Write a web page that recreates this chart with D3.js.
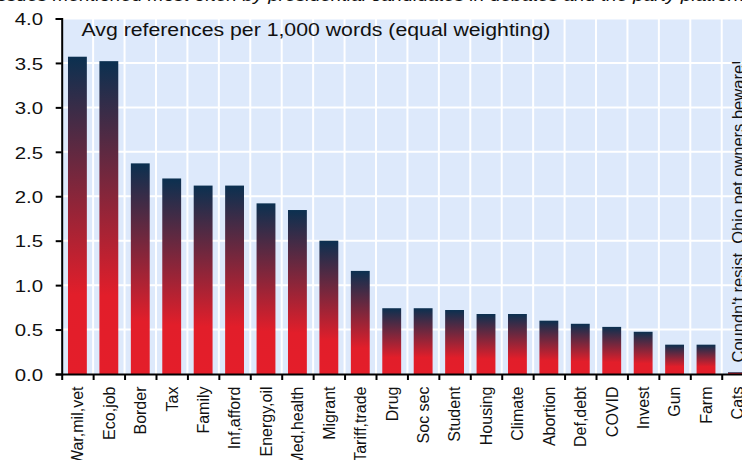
<!DOCTYPE html>
<html>
<head>
<meta charset="utf-8">
<script src="https://cdn.jsdelivr.net/npm/d3@7"></script>
<style>
  html, body { margin: 0; padding: 0; background: #ffffff; }
  svg { display: block; }
  text { font-family: "Liberation Sans", Arial, sans-serif; fill: #111; }
</style>
</head>
<body>
<div id="chart"></div>
<script>
// ---- data ----
const categories = ["War,mil,vet","Eco,job","Border","Tax","Family","Inf,afford","Energy,oil","Med,health","Migrant","Tariff,trade","Drug","Soc sec","Student","Housing","Climate","Abortion","Def,debt","COVID","Invest","Gun","Farm","Cats"];
const values = [3.57,3.52,2.37,2.20,2.12,2.12,1.92,1.845,1.50,1.16,0.74,0.74,0.72,0.675,0.675,0.60,0.565,0.53,0.475,0.33,0.33,0.02];
const yTicks = [0,0.5,1,1.5,2,2.5,3,3.5,4];
const yTickLabels = ["0.0","0.5","1.0","1.5","2.0","2.5","3.0","3.5","4.0"];
const titleText = "Issues mentioned most often by presidential candidates in debates and the party platforms";
const subtitleText = "Avg references per 1,000 words (equal weighting)";
const sideNote = "Coundn't resist. Ohio pet owners beware!";

(function () {
// ---- layout ----
const W = 742, H = 460;
const pLeft = 61.7, pTop = 18.5, pBottom = 374;
const step = 31.43;
const pRight = pLeft + step * categories.length;
const SX = 1.2; // horizontal stretch of y tick text in the reference

const svg = d3.select("#chart").append("svg").attr("width", W).attr("height", H);

const x = d3.scaleBand().domain(categories).range([pLeft, pRight]).paddingInner(0.4).paddingOuter(0.2);
const xEdge = d3.scaleLinear().domain([0, categories.length]).range([pLeft, pRight]);
const y = d3.scaleLinear().domain([0, 4]).range([pBottom, pTop]);

// gradient
const defs = svg.append("defs");
const grad = defs.append("linearGradient").attr("id", "barGrad")
  .attr("x1", 0).attr("y1", 0).attr("x2", 0).attr("y2", 1);
grad.append("stop").attr("offset", "0%").attr("stop-color", "#0b3050");
grad.append("stop").attr("offset", "75%").attr("stop-color", "#e21e2a");
grad.append("stop").attr("offset", "100%").attr("stop-color", "#e41e2a");

// plot background
svg.append("rect").attr("x", pLeft).attr("y", pTop).attr("width", pRight - pLeft).attr("height", pBottom - pTop)
  .attr("fill", "#dde9fb");

// grid
const edges = d3.range(1, categories.length + 1);
svg.append("g").selectAll("line").data(edges).join("line")
  .attr("x1", d => xEdge(d)).attr("x2", d => xEdge(d))
  .attr("y1", pTop).attr("y2", pBottom)
  .attr("stroke", "#fff").attr("stroke-width", 2);
svg.append("g").selectAll("line").data(yTicks.slice(1)).join("line")
  .attr("x1", pLeft).attr("x2", pRight)
  .attr("y1", d => y(d)).attr("y2", d => y(d))
  .attr("stroke", "#fff").attr("stroke-width", 2);

// bars
svg.append("g").selectAll("rect").data(values).join("rect")
  .attr("x", (d, i) => x(categories[i]))
  .attr("width", x.bandwidth())
  .attr("y", d => y(d))
  .attr("height", d => y(0) - y(d))
  .attr("fill", "url(#barGrad)");

// y axis
const yAxis = d3.axisLeft(y).tickValues(yTicks).tickSize(6).tickFormat("");
const gy = svg.append("g").attr("transform", `translate(${pLeft},0)`).call(yAxis);
gy.select(".domain").attr("stroke", "#000").attr("stroke-width", 2);
gy.selectAll(".tick line").attr("stroke", "#000").attr("stroke-width", 2);
svg.append("g").selectAll("text").data(yTicks).join("text")
  .attr("transform", (d) => `translate(43,${y(d) + 6.8}) scale(${SX},1)`)
  .attr("text-anchor", "end")
  .attr("font-size", 17)
  .text((d, i) => yTickLabels[i]);

// x axis
const xAxis = d3.axisBottom(xEdge).tickValues(d3.range(0, categories.length + 1)).tickSize(6).tickFormat("").tickSizeOuter(0);
const gx = svg.append("g").attr("transform", `translate(0,${pBottom})`).call(xAxis);
gx.select(".domain").attr("stroke", "#000").attr("stroke-width", 2);
gx.selectAll(".tick line").attr("stroke", "#000").attr("stroke-width", 2);
svg.append("g").selectAll("text").data(categories).join("text")
  .attr("transform", d => `translate(${x(d) + x.bandwidth() / 2 + 5.8},386.5) rotate(-90)`)
  .attr("text-anchor", "end")
  .attr("font-size", 16)
  .text(d => d);

// subtitle
svg.append("text")
  .attr("transform", `translate(81.5,36) scale(1.15,1)`)
  .attr("font-size", 18.5)
  .text(subtitleText);

// title (cut off at top)
svg.append("text")
  .attr("transform", `translate(-8,1.2) scale(${SX},1)`)
  .attr("font-size", 16)
  .attr("font-style", "italic")
  .text(titleText);

// side note
svg.append("text")
  .attr("transform", `translate(743.5,362.5) rotate(-90)`)
  .attr("text-anchor", "start")
  .attr("font-size", 16.5)
  .text(sideNote);
})();
</script>
</body>
</html>
